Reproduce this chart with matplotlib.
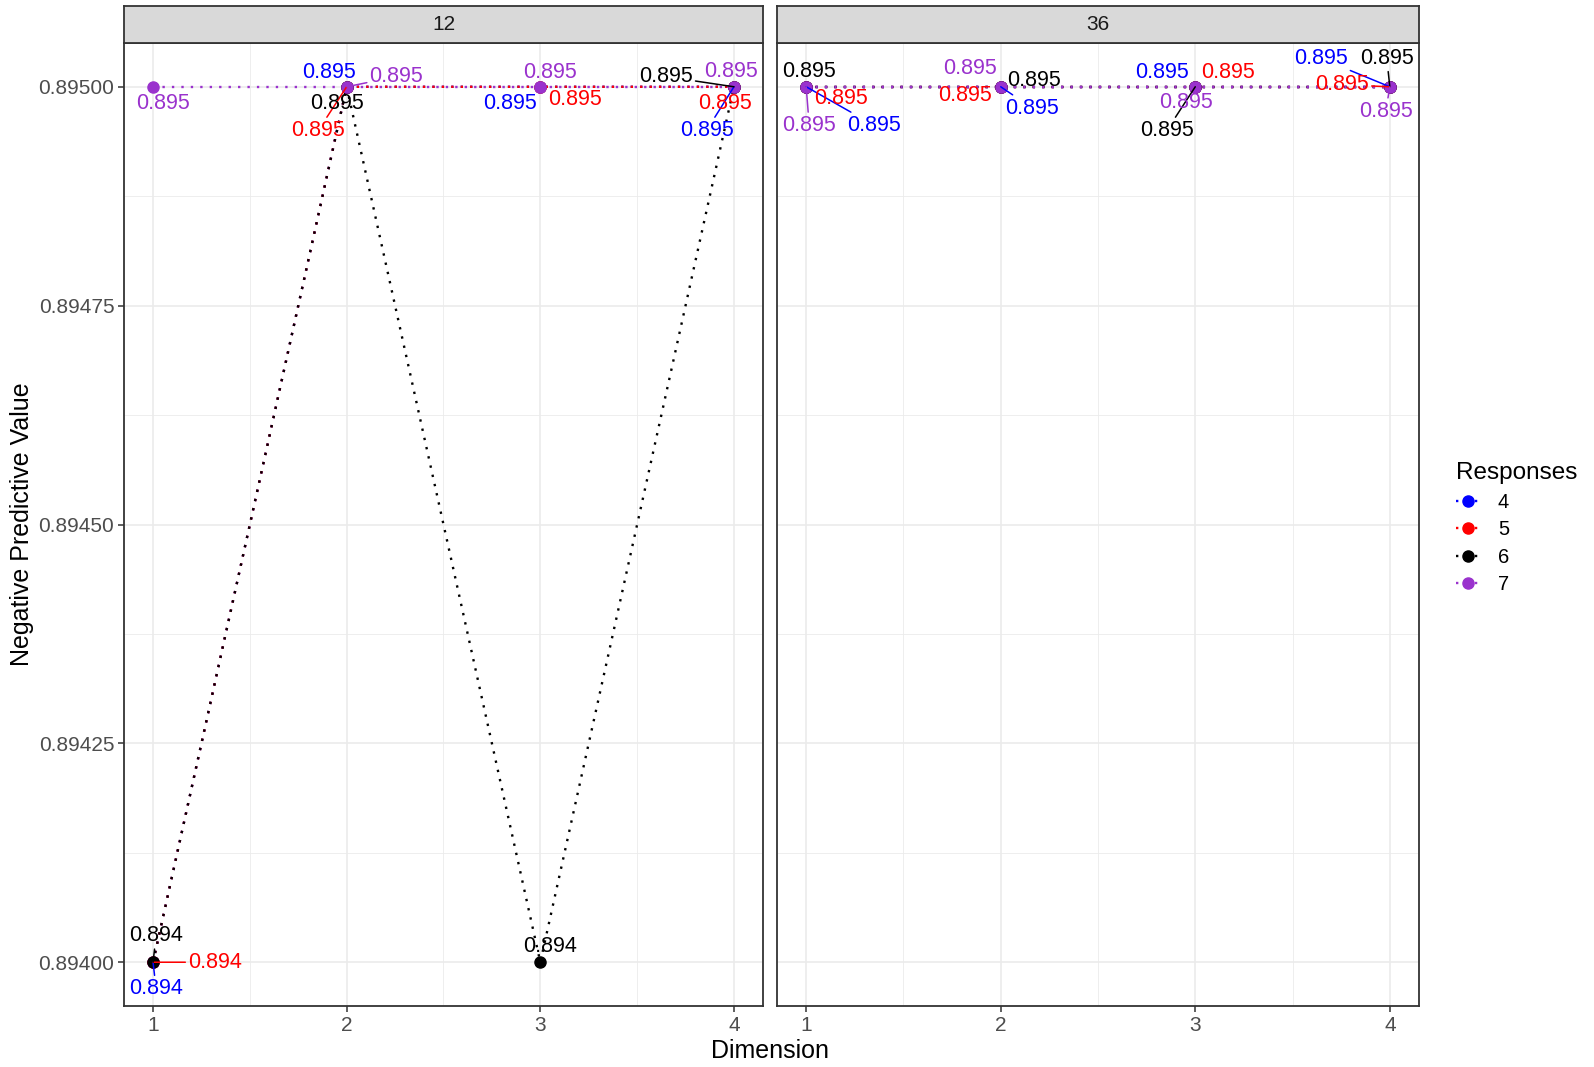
import matplotlib
matplotlib.use("Agg")
import matplotlib.pyplot as plt
from matplotlib.lines import Line2D
import numpy as np

plt.rcParams['font.family'] = ['Liberation Sans', 'DejaVu Sans']

# ---- data -------------------------------------------------------------
panels = ["12", "36"]
dimension = [1, 2, 3, 4]
responses = ["4", "5", "6", "7"]
colors = {"4": "#0000FF", "5": "#FF0000", "6": "#000000", "7": "#9A32CD"}

npv_12 = {
    "4": [0.894, 0.895, 0.895, 0.895],
    "5": [0.894, 0.895, 0.895, 0.895],
    "6": [0.894, 0.895, 0.894, 0.895],
    "7": [0.895, 0.895, 0.895, 0.895],
}
npv_36 = {
    "4": [0.895, 0.895, 0.895, 0.895],
    "5": [0.895, 0.895, 0.895, 0.895],
    "6": [0.895, 0.895, 0.895, 0.895],
    "7": [0.895, 0.895, 0.895, 0.895],
}
panel_data = {"12": npv_12, "36": npv_36}

y_ticks = [0.894, 0.89425, 0.8945, 0.89475, 0.895]

# repelled label placement: (dx, dy) in pixels (dy downward), draw segment?
label_offsets = {
    "12": {
        "4": [(3, 26, True), (-17, -14, False), (-30, 16, False), (-27, 43, True)],
        "5": [(61, 0, True), (-28, 43, True), (34, 13, False), (-9, 16, False)],
        "6": [(3, -26, True), (-10, 16, False), (10, -15, False), (-67, -10, True)],
        "7": [(10, 16, False), (49, -10, True), (10, -14, False), (-3, -15, False)],
    },
    "36": {
        "4": [(67, 38, True), (31, 21, True), (-33, -14, False), (-68, -28, True)],
        "5": [(34, 12, False), (-35, 9, False), (32, -14, False), (-47, -2, True)],
        "6": [(3, -15, False), (33, -6, False), (-28, 43, True), (-3, -28, True)],
        "7": [(3, 38, True), (-30, -18, False), (-9, 15, False), (-4, 24, True)],
    },
}

# ---- figure -------------------------------------------------------------
W, H = 1594, 1067
fig = plt.figure(figsize=(W / 100, H / 100), dpi=100)
S = 1594 / 1568.0

panel_x = [(124, 763), (777, 1419)]
top_px, bottom_px, strip_top = 43, 1006, 6

dark = "#333333"
grid_major = "#EBEBEB"
ylim = (0.89395, 0.89505)
xlim = (0.85, 4.15)
dotted = (0, (1, 3))

axes = []
for p, (x0, x1) in zip(panels, panel_x):
    ax = fig.add_axes([x0 / W, 1 - bottom_px / H, (x1 - x0) / W, (bottom_px - top_px) / H])
    axes.append(ax)
    ax.set_xlim(*xlim)
    ax.set_ylim(*ylim)
    ax.set_facecolor("white")
    # grid
    for xv in dimension:
        ax.axvline(xv, color=grid_major, lw=1.2, zorder=0)
    for xv in [1.5, 2.5, 3.5]:
        ax.axvline(xv, color=grid_major, lw=0.6, zorder=0)
    for yv in y_ticks:
        ax.axhline(yv, color=grid_major, lw=1.2, zorder=0)
    for yv in np.array(y_ticks[:-1]) + 0.000125:
        ax.axhline(yv, color=grid_major, lw=0.6, zorder=0)

    data = panel_data[p]
    for r in responses:
        ax.plot(dimension, data[r], linestyle=dotted, color=colors[r], lw=1.7, zorder=2)
    for r in responses:
        ax.plot(dimension, data[r], linestyle="none", marker="o", markersize=8,
                color=colors[r], zorder=3)

    for r in responses:
        for i, (xv, yv) in enumerate(zip(dimension, data[r])):
            dx, dy, seg = label_offsets[p][r][i]
            ap = None
            if seg:
                ap = dict(arrowstyle="-", color=colors[r], lw=1.1,
                          shrinkA=0, shrinkB=0)
            ax.annotate(f"{yv:.3f}", xy=(xv, yv), xytext=(dx * S, -dy * S),
                        textcoords="offset pixels", ha="center", va="center",
                        color=colors[r], fontsize=15.5, arrowprops=ap, zorder=4)

    ax.set_xticks(dimension)
    ax.set_xticklabels([str(d) for d in dimension])
    ax.set_yticks(y_ticks)
    ax.tick_params(axis="both", colors=dark, length=4, width=1.1,
                   labelcolor="#4D4D4D", labelsize=15, pad=3)
    for s in ax.spines.values():
        s.set_color(dark)
        s.set_linewidth(1.3)

    # strip
    sax = fig.add_axes([x0 / W, 1 - top_px / H, (x1 - x0) / W, (top_px - strip_top) / H])
    sax.set_facecolor("#D9D9D9")
    sax.set_xticks([])
    sax.set_yticks([])
    for s in sax.spines.values():
        s.set_color(dark)
        s.set_linewidth(1.3)
    sax.text(0.5, 0.5, p, transform=sax.transAxes, ha="center", va="center",
             fontsize=15, color="#1A1A1A")

axes[0].set_yticklabels([f"{v:.5f}" for v in y_ticks])
axes[1].set_yticklabels([])
axes[1].tick_params(axis="y", length=0)

fig.text(757 * S / W, 1 - 1034 * S / H, "Dimension", ha="center", va="center",
         fontsize=18, color="black")
fig.text(22 * S / W, 1 - 516 * S / H, "Negative Predictive Value", ha="center",
         va="center", rotation=90, fontsize=18, color="black")

handles = [Line2D([0], [0], color=colors[r], linestyle=dotted, lw=1.7, marker="o",
                  markersize=8) for r in responses]
leg = fig.legend(handles, responses, title="Responses", loc="upper left",
                 bbox_to_anchor=(1424 * S / W, 1 - 447 * S / H), frameon=False,
                 fontsize=14.5, title_fontsize=17.5, handlelength=1.2,
                 handletextpad=0.9, labelspacing=0.42, borderaxespad=0)
leg._legend_box.align = "left"

fig.savefig("out.png", dpi=100)
